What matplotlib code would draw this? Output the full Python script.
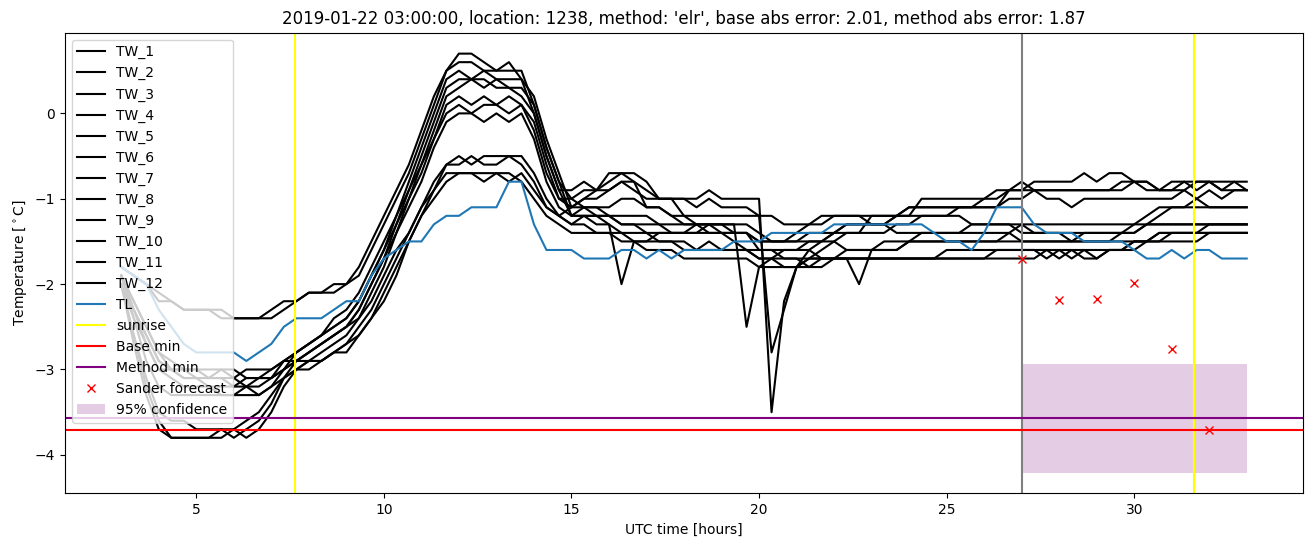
import numpy as np
import matplotlib
matplotlib.use('Agg')
import matplotlib.pyplot as plt

# UTC hours, 20 minute steps from 03:00 to 33:00
hours = np.linspace(3, 33, 91)

# TW series (road sensors), one row = 3 hours
tw_1 = [-1.8, -1.9, -2.0, -2.1, -2.2, -2.3, -2.3, -2.3, -2.3,
        -2.4, -2.4, -2.4, -2.4, -2.3, -2.2, -2.1, -2.1, -2.1,
        -2.0, -1.9, -1.6, -1.3, -1.0, -0.7, -0.3, 0.1, 0.5,
        0.7, 0.7, 0.6, 0.5, 0.6, 0.4, 0.0, -0.5, -0.9,
        -0.9, -0.8, -0.9, -0.7, -0.7, -0.7, -0.8, -1.0, -1.0,
        -1.0, -1.0, -0.9, -1.0, -1.0, -1.0, -1.0, -3.5, -2.2,
        -1.8, -1.6, -1.5, -1.4, -1.3, -1.3, -1.3, -1.3, -1.2,
        -1.2, -1.0, -1.0, -1.0, -1.0, -1.0, -1.0, -0.9, -0.9,
        -0.9, -0.8, -0.8, -0.8, -0.8, -0.7, -0.8, -0.7, -0.7,
        -0.8, -0.8, -0.9, -0.8, -0.8, -0.8, -0.8, -0.8, -0.8,
        -0.8]
tw_2 = [-1.8, -1.9, -2.0, -2.2, -2.2, -2.3, -2.3, -2.3, -2.4,
        -2.4, -2.4, -2.4, -2.3, -2.2, -2.2, -2.1, -2.1, -2.0,
        -2.0, -1.8, -1.5, -1.2, -0.9, -0.6, -0.2, 0.2, 0.5,
        0.6, 0.6, 0.5, 0.5, 0.5, 0.5, 0.1, -0.4, -0.8,
        -1.0, -0.9, -0.9, -0.8, -0.7, -0.8, -1.1, -1.1, -1.2,
        -1.2, -1.2, -1.2, -1.2, -1.2, -1.2, -1.2, -2.8, -2.3,
        -1.8, -1.7, -1.6, -1.5, -1.4, -1.4, -1.2, -1.2, -1.2,
        -1.1, -1.1, -1.1, -1.1, -1.1, -1.1, -1.0, -1.0, -0.9,
        -0.9, -0.9, -0.9, -0.9, -0.9, -0.9, -0.9, -0.9, -0.8,
        -0.8, -0.8, -0.9, -0.9, -0.8, -0.9, -0.8, -0.9, -0.8,
        -0.9]
tw_3 = [-1.9, -2.2, -2.5, -2.8, -3.0, -3.0, -3.1, -3.1, -3.1,
        -3.2, -3.1, -3.1, -3.1, -3.0, -2.8, -2.7, -2.6, -2.5,
        -2.4, -2.2, -1.9, -1.6, -1.2, -0.8, -0.4, 0.0, 0.4,
        0.5, 0.4, 0.5, 0.4, 0.4, 0.4, 0.2, -0.3, -0.7,
        -1.1, -1.0, -1.0, -0.9, -0.8, -0.9, -1.0, -1.0, -1.0,
        -1.2, -1.3, -1.3, -1.3, -1.3, -2.5, -1.8, -1.7, -1.6,
        -1.6, -1.5, -1.5, -1.4, -1.4, -1.4, -1.4, -1.4, -1.3,
        -1.3, -1.2, -1.2, -1.2, -1.1, -1.1, -1.1, -1.1, -1.0,
        -1.0, -0.9, -1.0, -1.0, -1.1, -1.0, -1.0, -1.0, -1.0,
        -1.0, -1.0, -1.0, -1.0, -0.9, -1.0, -0.9, -1.0, -0.9,
        -0.9]
tw_4 = [-1.9, -2.3, -2.6, -2.9, -3.0, -3.1, -3.1, -3.2, -3.2,
        -3.2, -3.2, -3.1, -3.1, -3.0, -2.9, -2.8, -2.7, -2.6,
        -2.5, -2.3, -2.0, -1.7, -1.3, -0.9, -0.5, -0.1, 0.3,
        0.4, 0.4, 0.3, 0.4, 0.3, 0.3, 0.1, -0.4, -0.8,
        -1.2, -1.1, -1.1, -1.1, -1.0, -1.0, -1.1, -1.1, -1.2,
        -1.3, -1.3, -1.3, -1.3, -1.4, -1.4, -1.5, -1.5, -1.5,
        -1.4, -1.3, -1.3, -1.2, -1.2, -1.2, -1.3, -1.3, -1.4,
        -1.4, -1.4, -1.4, -1.4, -1.4, -1.4, -1.4, -1.4, -1.4,
        -1.3, -1.4, -1.4, -1.4, -1.4, -1.4, -1.4, -1.4, -1.4,
        -1.4, -1.3, -1.2, -1.1, -1.1, -1.1, -1.1, -1.1, -1.1,
        -1.1]
tw_5 = [-2.0, -2.4, -2.7, -3.0, -3.1, -3.2, -3.2, -3.2, -3.3,
        -3.3, -3.2, -3.3, -3.2, -3.0, -2.9, -2.8, -2.7, -2.6,
        -2.5, -2.4, -2.1, -1.8, -1.4, -1.0, -0.6, -0.2, 0.2,
        0.3, 0.4, 0.4, 0.3, 0.3, 0.2, 0.0, -0.5, -0.9,
        -1.2, -1.2, -1.3, -1.3, -2.0, -1.5, -1.5, -1.4, -1.4,
        -1.4, -1.4, -1.4, -1.4, -1.5, -1.6, -1.7, -1.7, -1.7,
        -1.7, -1.8, -1.8, -1.7, -1.7, -2.0, -1.6, -1.6, -1.6,
        -1.5, -1.5, -1.5, -1.5, -1.5, -1.5, -1.5, -1.5, -1.4,
        -1.5, -1.5, -1.5, -1.5, -1.5, -1.5, -1.5, -1.5, -1.4,
        -1.4, -1.3, -1.3, -1.3, -1.3, -1.3, -1.3, -1.3, -1.3,
        -1.3]
tw_6 = [-1.9, -2.3, -2.7, -3.0, -3.0, -3.1, -3.1, -3.1, -3.1,
        -3.1, -3.2, -3.2, -3.1, -2.9, -2.8, -2.7, -2.6, -2.5,
        -2.4, -2.2, -1.9, -1.6, -1.3, -1.0, -0.7, -0.3, 0.1,
        0.2, 0.1, 0.2, 0.1, 0.2, 0.1, -0.1, -0.6, -1.0,
        -1.0, -1.1, -1.1, -1.2, -1.2, -1.2, -1.2, -1.3, -1.4,
        -1.4, -1.4, -1.3, -1.4, -1.4, -1.4, -1.6, -1.6, -1.6,
        -1.6, -1.6, -1.7, -1.7, -1.7, -1.7, -1.7, -1.7, -1.7,
        -1.7, -1.7, -1.7, -1.7, -1.7, -1.7, -1.7, -1.6, -1.6,
        -1.6, -1.6, -1.7, -1.6, -1.7, -1.6, -1.7, -1.6, -1.6,
        -1.5, -1.5, -1.5, -1.4, -1.4, -1.4, -1.4, -1.4, -1.4,
        -1.4]
tw_7 = [-1.9, -2.3, -2.6, -2.9, -3.0, -3.0, -3.0, -3.0, -3.0,
        -3.1, -3.0, -3.0, -3.0, -2.9, -2.8, -2.7, -2.6, -2.4,
        -2.3, -2.1, -1.8, -1.5, -1.2, -0.9, -0.6, -0.3, 0.0,
        0.1, 0.0, 0.1, 0.1, 0.0, 0.1, -0.2, -0.7, -1.0,
        -1.1, -1.1, -1.2, -1.2, -1.3, -1.3, -1.4, -1.4, -1.4,
        -1.4, -1.3, -1.3, -1.3, -1.3, -1.3, -1.4, -1.5, -1.5,
        -1.5, -1.4, -1.4, -1.4, -1.3, -1.3, -1.3, -1.3, -1.2,
        -1.1, -1.1, -1.1, -1.1, -1.1, -1.1, -1.1, -1.1, -0.9,
        -0.8, -0.9, -0.9, -0.9, -0.9, -0.9, -0.9, -0.9, -0.9,
        -0.8, -0.9, -0.9, -0.9, -0.9, -0.8, -0.8, -0.9, -0.9,
        -0.9]
tw_8 = [-1.9, -2.2, -2.5, -2.8, -2.9, -3.0, -3.0, -3.1, -3.0,
        -3.0, -3.1, -3.1, -3.0, -2.9, -2.9, -2.8, -2.7, -2.6,
        -2.5, -2.3, -2.0, -1.7, -1.4, -1.1, -0.8, -0.4, -0.1,
        0.0, 0.0, -0.1, 0.0, -0.1, 0.0, -0.3, -0.8, -1.1,
        -1.2, -1.2, -1.2, -1.3, -1.4, -1.4, -1.4, -1.5, -1.5,
        -1.6, -1.6, -1.6, -1.6, -1.6, -1.6, -1.7, -1.7, -1.8,
        -1.8, -1.8, -1.7, -1.7, -1.7, -1.7, -1.7, -1.7, -1.7,
        -1.7, -1.7, -1.7, -1.7, -1.7, -1.7, -1.7, -1.7, -1.7,
        -1.7, -1.7, -1.6, -1.7, -1.6, -1.7, -1.7, -1.6, -1.6,
        -1.5, -1.5, -1.4, -1.4, -1.4, -1.4, -1.3, -1.3, -1.3,
        -1.3]
tw_9 = [-2.0, -2.6, -3.2, -3.6, -3.8, -3.8, -3.8, -3.8, -3.7,
        -3.8, -3.7, -3.6, -3.4, -3.1, -2.9, -2.9, -2.8, -2.7,
        -2.6, -2.4, -2.2, -1.9, -1.6, -1.4, -1.1, -0.8, -0.6,
        -0.5, -0.6, -0.5, -0.5, -0.5, -0.5, -0.7, -1.0, -1.2,
        -1.1, -1.0, -0.9, -0.9, -0.8, -0.8, -0.9, -1.0, -1.0,
        -1.0, -1.1, -1.0, -1.1, -1.1, -1.1, -1.2, -1.2, -1.3,
        -1.3, -1.3, -1.2, -1.2, -1.2, -1.2, -1.2, -1.2, -1.2,
        -1.2, -1.2, -1.2, -1.2, -1.2, -1.3, -1.3, -1.3, -1.3,
        -1.4, -1.4, -1.4, -1.4, -1.5, -1.4, -1.4, -1.4, -1.4,
        -1.3, -1.2, -1.1, -1.1, -1.1, -1.0, -1.1, -1.1, -1.1,
        -1.1]
tw_10 = [-2.0, -2.7, -3.3, -3.7, -3.8, -3.8, -3.8, -3.8, -3.8,
         -3.7, -3.8, -3.7, -3.5, -3.2, -3.0, -2.9, -2.9, -2.8,
         -2.7, -2.5, -2.3, -2.0, -1.7, -1.4, -1.1, -0.9, -0.6,
         -0.6, -0.5, -0.6, -0.6, -0.5, -0.6, -0.8, -1.1, -1.2,
         -1.3, -1.2, -1.2, -1.2, -1.3, -1.3, -1.3, -1.3, -1.3,
         -1.3, -1.3, -1.4, -1.4, -1.4, -1.4, -1.5, -1.5, -1.5,
         -1.5, -1.5, -1.5, -1.5, -1.6, -1.6, -1.6, -1.6, -1.6,
         -1.5, -1.4, -1.4, -1.4, -1.4, -1.3, -1.3, -1.3, -1.3,
         -1.3, -1.3, -1.3, -1.3, -1.3, -1.3, -1.3, -1.3, -1.3,
         -1.3, -1.3, -1.3, -1.3, -1.3, -1.3, -1.3, -1.3, -1.3,
         -1.3]
tw_11 = [-1.9, -2.4, -2.9, -3.2, -3.3, -3.3, -3.3, -3.3, -3.3,
         -3.3, -3.3, -3.3, -3.2, -3.1, -3.0, -3.0, -2.9, -2.8,
         -2.8, -2.6, -2.4, -2.2, -1.9, -1.5, -1.2, -0.9, -0.7,
         -0.7, -0.7, -0.7, -0.7, -0.8, -0.7, -0.9, -1.1, -1.2,
         -1.3, -1.3, -1.4, -1.4, -1.5, -1.5, -1.6, -1.6, -1.6,
         -1.7, -1.7, -1.7, -1.7, -1.7, -1.7, -1.8, -1.8, -1.8,
         -1.8, -1.7, -1.7, -1.7, -1.6, -1.6, -1.6, -1.5, -1.5,
         -1.5, -1.5, -1.5, -1.5, -1.5, -1.5, -1.5, -1.5, -1.5,
         -1.5, -1.5, -1.5, -1.5, -1.5, -1.5, -1.5, -1.5, -1.5,
         -1.5, -1.5, -1.4, -1.4, -1.4, -1.4, -1.4, -1.4, -1.4,
         -1.4]
tw_12 = [-2.0, -2.6, -3.1, -3.5, -3.6, -3.6, -3.7, -3.7, -3.7,
         -3.7, -3.6, -3.5, -3.3, -3.1, -3.0, -2.9, -2.9, -2.8,
         -2.7, -2.6, -2.4, -2.1, -1.8, -1.5, -1.2, -1.0, -0.8,
         -0.7, -0.7, -0.8, -0.7, -0.7, -0.8, -1.0, -1.2, -1.3,
         -1.4, -1.4, -1.4, -1.4, -1.4, -1.5, -1.5, -1.5, -1.5,
         -1.5, -1.6, -1.5, -1.6, -1.6, -1.6, -1.6, -1.6, -1.7,
         -1.7, -1.7, -1.7, -1.7, -1.7, -1.7, -1.7, -1.7, -1.7,
         -1.7, -1.7, -1.7, -1.6, -1.6, -1.6, -1.6, -1.6, -1.6,
         -1.6, -1.6, -1.6, -1.6, -1.6, -1.6, -1.6, -1.6, -1.6,
         -1.6, -1.5, -1.5, -1.5, -1.5, -1.5, -1.4, -1.4, -1.4,
         -1.4]

# TL (air temperature)
tl = [-1.8, -1.9, -2.0, -2.3, -2.5, -2.7, -2.8, -2.8, -2.8,
      -2.8, -2.9, -2.8, -2.7, -2.5, -2.4, -2.4, -2.4, -2.3,
      -2.2, -2.2, -1.9, -1.7, -1.6, -1.5, -1.5, -1.3, -1.2,
      -1.2, -1.1, -1.1, -1.1, -0.8, -0.8, -1.3, -1.6, -1.6,
      -1.6, -1.7, -1.7, -1.7, -1.6, -1.6, -1.7, -1.6, -1.7,
      -1.6, -1.6, -1.6, -1.6, -1.5, -1.5, -1.5, -1.4, -1.4,
      -1.4, -1.4, -1.4, -1.3, -1.3, -1.3, -1.3, -1.3, -1.3,
      -1.3, -1.3, -1.4, -1.5, -1.5, -1.6, -1.4, -1.1, -1.1,
      -1.1, -1.3, -1.4, -1.4, -1.4, -1.5, -1.5, -1.5, -1.5,
      -1.6, -1.7, -1.7, -1.6, -1.7, -1.6, -1.6, -1.7, -1.7,
      -1.7]

tw_series = [tw_1, tw_2, tw_3, tw_4, tw_5, tw_6,
             tw_7, tw_8, tw_9, tw_10, tw_11, tw_12]

sunrise_hours = [7.63, 31.6]
forecast_start = 27
base_min = -3.705
method_min = -3.565

# Sander forecast points
sander_hours = [27, 28, 29, 30, 31, 32]
sander_temp = [-1.70, -2.19, -2.17, -1.99, -2.76, -3.71]

# 95% confidence band
conf_hours = [27, 33]
conf_low = -4.21
conf_high = -2.94

fig = plt.figure(figsize=(13.13, 5.47), dpi=100)
ax = fig.add_axes([0.0495, 0.0982, 0.9429, 0.842])

for i, s in enumerate(tw_series):
    ax.plot(hours, s, color='black', label='TW_%d' % (i + 1))
ax.plot(hours, tl, color='C0', label='TL')

ax.axvline(sunrise_hours[0], color='yellow', label='sunrise')
ax.axvline(sunrise_hours[1], color='yellow')
ax.axvline(forecast_start, color='grey')
ax.axhline(base_min, color='red', label='Base min')
ax.axhline(method_min, color='purple', label='Method min')
ax.plot(sander_hours, sander_temp, 'rx', label='Sander forecast')
ax.fill_between(conf_hours, conf_low, conf_high, color='purple',
                alpha=0.2, linewidth=0, label='95% confidence')

ax.set_xlim(1.5, 34.5)
ax.set_ylim(-4.45, 0.945)
ax.set_xlabel('UTC time [hours]')
ax.set_ylabel('Temperature [$^\\circ$C]')
ax.set_title("2019-01-22 03:00:00, location: 1238, method: 'elr', "
             "base abs error: 2.01, method abs error: 1.87")
ax.legend(loc='upper left')

fig.savefig('out.png', dpi=100)
